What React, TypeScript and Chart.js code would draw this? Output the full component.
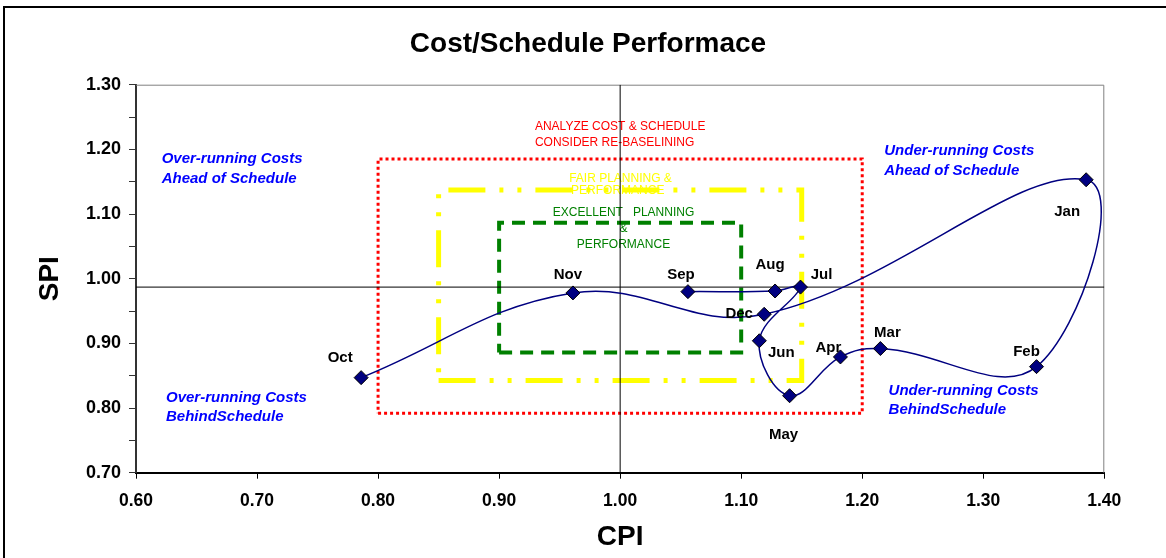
import React, { useEffect, useRef } from 'react';
import { Chart, registerables } from 'chart.js';

Chart.register(...registerables);

// Monthly performance indices
const months = ['Oct', 'Nov', 'Dec', 'Jan', 'Feb', 'Mar', 'Apr', 'May', 'Jun', 'Jul', 'Aug', 'Sep'];
const cpi = [0.786, 0.961, 1.119, 1.385, 1.344, 1.215, 1.182, 1.140, 1.115, 1.149, 1.128, 1.056];
const spi = [0.847, 0.978, 0.945, 1.153, 0.864, 0.892, 0.879, 0.819, 0.904, 0.987, 0.981, 0.980];

// Reference cross-hair
const cpiReference = 1.0;
const spiReference = 0.987;

// Tolerance zones [min, max]
const redZoneX = [0.80, 1.20];
const redZoneY = [0.792, 1.185];
const yellowZoneX = [0.85, 1.15];
const yellowZoneY = [0.8425, 1.1372];
const greenZoneX = [0.90, 1.10];
const greenZoneY = [0.886, 1.0866];

// Axis ranges
const xRange = [0.6, 1.4];
const yRange = [0.7, 1.3];

// Pixel offsets of each month label from its marker
const monthLabelOffsets: [number, number][] = [
  [-21, -20], [-5, -18], [-25, 0], [-19, 32], [-10, -15], [7, -16],
  [-12, -9], [-6, 39], [22, 12], [21, -12], [-5, -26], [-7, -17],
];

const FONT = 'Arial, "Liberation Sans", Helvetica, sans-serif';

type Note = { text: string; x: number; y: number; align: CanvasTextAlign; color: string; font: string };

// Zone captions (drawn beneath the zone outlines)
const zoneNotes: Note[] = [
  { text: 'ANALYZE COST & SCHEDULE', x: 0.9296, y: 1.2351, align: 'left', color: '#ff0000', font: `12px ${FONT}` },
  { text: 'CONSIDER RE-BASELINING', x: 0.9296, y: 1.2103, align: 'left', color: '#ff0000', font: `12px ${FONT}` },
  { text: 'FAIR PLANNING &', x: 1.0003, y: 1.1542, align: 'center', color: '#ffff00', font: `12px ${FONT}` },
  { text: 'PERFORMANCE', x: 0.998, y: 1.1355, align: 'center', color: '#ffff00', font: `12px ${FONT}` },
  { text: 'EXCELLENT   PLANNING', x: 1.0028, y: 1.1021, align: 'center', color: '#008000', font: `12px ${FONT}` },
  { text: '&', x: 1.0028, y: 1.0769, align: 'center', color: '#008000', font: `12px ${FONT}` },
  { text: 'PERFORMANCE', x: 1.0028, y: 1.0526, align: 'center', color: '#008000', font: `12px ${FONT}` },
];

// Quadrant captions
const quadFont = `italic bold 15px ${FONT}`;
const quadrantNotes: Note[] = [
  { text: 'Over-running Costs', x: 0.6212, y: 1.1846, align: 'left', color: '#0000ff', font: quadFont },
  { text: 'Ahead of Schedule', x: 0.6212, y: 1.1537, align: 'left', color: '#0000ff', font: quadFont },
  { text: 'Over-running Costs', x: 0.6248, y: 0.816, align: 'left', color: '#0000ff', font: quadFont },
  { text: 'BehindSchedule', x: 0.6248, y: 0.7857, align: 'left', color: '#0000ff', font: quadFont },
  { text: 'Under-running Costs', x: 1.2182, y: 1.198, align: 'left', color: '#0000ff', font: quadFont },
  { text: 'Ahead of Schedule', x: 1.2182, y: 1.1671, align: 'left', color: '#0000ff', font: quadFont },
  { text: 'Under-running Costs', x: 1.2218, y: 0.8268, align: 'left', color: '#0000ff', font: quadFont },
  { text: 'BehindSchedule', x: 1.2218, y: 0.797, align: 'left', color: '#0000ff', font: quadFont },
];

const rect = (xs: number[], ys: number[]) => [
  { x: xs[0], y: ys[0] },
  { x: xs[1], y: ys[0] },
  { x: xs[1], y: ys[1] },
  { x: xs[0], y: ys[1] },
  { x: xs[0], y: ys[0] },
];

function drawNotes(chart: any, notes: Note[]) {
  const { ctx, scales } = chart;
  ctx.save();
  ctx.textBaseline = 'middle';
  for (const n of notes) {
    ctx.font = n.font;
    ctx.fillStyle = n.color;
    ctx.textAlign = n.align;
    ctx.fillText(n.text, scales.x.getPixelForValue(n.x), scales.y.getPixelForValue(n.y));
  }
  ctx.restore();
}

const decorPlugin = {
  id: 'decor',
  beforeDraw(chart: any) {
    const { ctx } = chart;
    ctx.save();
    ctx.fillStyle = '#ffffff';
    ctx.fillRect(0, 0, chart.width, chart.height);
    // frame
    ctx.fillStyle = '#000000';
    ctx.fillRect(3, 6, 2, chart.height - 6);
    ctx.fillRect(3, 6, chart.width - 3, 2);
    // title
    ctx.font = `bold 28px ${FONT}`;
    ctx.textAlign = 'center';
    ctx.textBaseline = 'alphabetic';
    ctx.fillText('Cost/Schedule Performace', 588, 51.7);
    ctx.restore();
  },
  beforeDatasetsDraw(chart: any) {
    const { ctx, chartArea } = chart;
    drawNotes(chart, zoneNotes);
    drawNotes(chart, quadrantNotes);
    ctx.save();
    ctx.strokeStyle = '#808080';
    ctx.lineWidth = 1;
    ctx.beginPath();
    ctx.moveTo(chartArea.left, chartArea.top + 0.5);
    ctx.lineTo(chartArea.right - 0.5, chartArea.top + 0.5);
    ctx.lineTo(chartArea.right - 0.5, chartArea.bottom);
    ctx.stroke();
    ctx.restore();
  },
  afterDatasetsDraw(chart: any) {
    const { ctx } = chart;
    const meta = chart.getDatasetMeta(0);
    ctx.save();
    ctx.font = `bold 15px ${FONT}`;
    ctx.fillStyle = '#000000';
    ctx.textAlign = 'center';
    ctx.textBaseline = 'middle';
    meta.data.forEach((pt: any, i: number) => {
      const [dx, dy] = monthLabelOffsets[i];
      ctx.fillText(months[i], pt.x + dx, pt.y + dy);
    });
    ctx.restore();
  },
};

export default function App() {
  const canvasRef = useRef<HTMLCanvasElement | null>(null);

  useEffect(() => {
    document.body.style.margin = '0';
    const canvas = canvasRef.current;
    if (!canvas) return;

    const chart = new Chart(canvas, {
      type: 'scatter',
      data: {
        datasets: [
          {
            label: 'CPI / SPI',
            data: cpi.map((x, i) => ({ x, y: spi[i] })),
            showLine: true,
            tension: 0.4,
            capBezierPoints: false,
            borderColor: '#000080',
            borderWidth: 1.5,
            pointStyle: 'rectRot',
            pointRadius: 7,
            pointBackgroundColor: '#000080',
            pointBorderColor: '#000000',
            pointBorderWidth: 1,
            order: 0,
          },
          {
            label: 'CPI reference',
            data: [{ x: cpiReference, y: yRange[0] }, { x: cpiReference, y: yRange[1] }],
            showLine: true,
            borderColor: '#000000',
            borderWidth: 1,
            pointRadius: 0,
            order: 1,
          },
          {
            label: 'SPI reference',
            data: [{ x: xRange[0], y: spiReference }, { x: xRange[1], y: spiReference }],
            showLine: true,
            borderColor: '#000000',
            borderWidth: 1,
            pointRadius: 0,
            order: 1,
          },
          {
            label: 'Excellent',
            data: rect(greenZoneX, greenZoneY),
            showLine: true,
            borderColor: '#008000',
            borderWidth: 4,
            borderDash: [13, 8],
            pointRadius: 0,
            order: 2,
          },
          {
            label: 'Fair',
            data: rect(yellowZoneX, yellowZoneY),
            showLine: true,
            borderColor: '#ffff00',
            borderWidth: 5,
            borderDash: [37, 14, 4, 14, 4, 14],
            pointRadius: 0,
            order: 3,
          },
          {
            label: 'Analyze',
            data: rect(redZoneX, redZoneY),
            showLine: true,
            borderColor: '#ff0000',
            borderWidth: 3,
            borderDash: [3, 3],
            pointRadius: 0,
            order: 4,
          },
        ],
      },
      options: {
        animation: false,
        responsive: false,
        devicePixelRatio: 1,
        layout: { padding: { left: 0, top: 84.7, right: 61.7, bottom: 0 } },
        plugins: {
          legend: { display: false },
          tooltip: { enabled: false },
          title: { display: false },
        },
        scales: {
          x: {
            type: 'linear',
            min: xRange[0],
            max: xRange[1],
            afterFit: (scale: any) => { scale.height = 85.3; },
            ticks: {
              stepSize: 0.1,
              autoSkip: false,
              maxRotation: 0,
              padding: 12,
              color: '#000000',
              font: { family: FONT, size: 17.5, weight: 'bold' },
              callback: (v: any) => Number(v).toFixed(2),
            },
            grid: { drawOnChartArea: false, drawTicks: true, tickLength: 6, tickColor: '#000000', tickWidth: 1 },
            border: { color: '#000000', width: 2 },
            title: {
              display: true,
              text: 'CPI',
              color: '#000000',
              font: { family: FONT, size: 28, weight: 'bold', lineHeight: 1.2 },
              padding: { top: 0, bottom: 4 },
            },
          },
          y: {
            type: 'linear',
            min: yRange[0],
            max: yRange[1],
            afterFit: (scale: any) => { scale.width = 136; },
            ticks: {
              stepSize: 0.05,
              autoSkip: false,
              padding: 8,
              color: '#000000',
              font: { family: FONT, size: 18, weight: 'bold' },
              callback: (v: any) => (Math.round(Number(v) * 100) % 10 === 0 ? Number(v).toFixed(2) : ''),
            },
            grid: { drawOnChartArea: false, drawTicks: true, tickLength: 7, tickColor: '#333333', tickWidth: 1 },
            border: { color: '#333333', width: 2 },
            title: {
              display: true,
              text: 'SPI',
              color: '#000000',
              font: { family: FONT, size: 28, weight: 'bold', lineHeight: 1.2 },
              padding: { top: 33, bottom: 0 },
            },
          },
        },
      },
      plugins: [decorPlugin],
    });

    return () => chart.destroy();
  }, []);

  return (
    <canvas
      ref={canvasRef}
      width={1166}
      height={558}
      style={{ display: 'block', width: 1166, height: 558 }}
    />
  );
}
